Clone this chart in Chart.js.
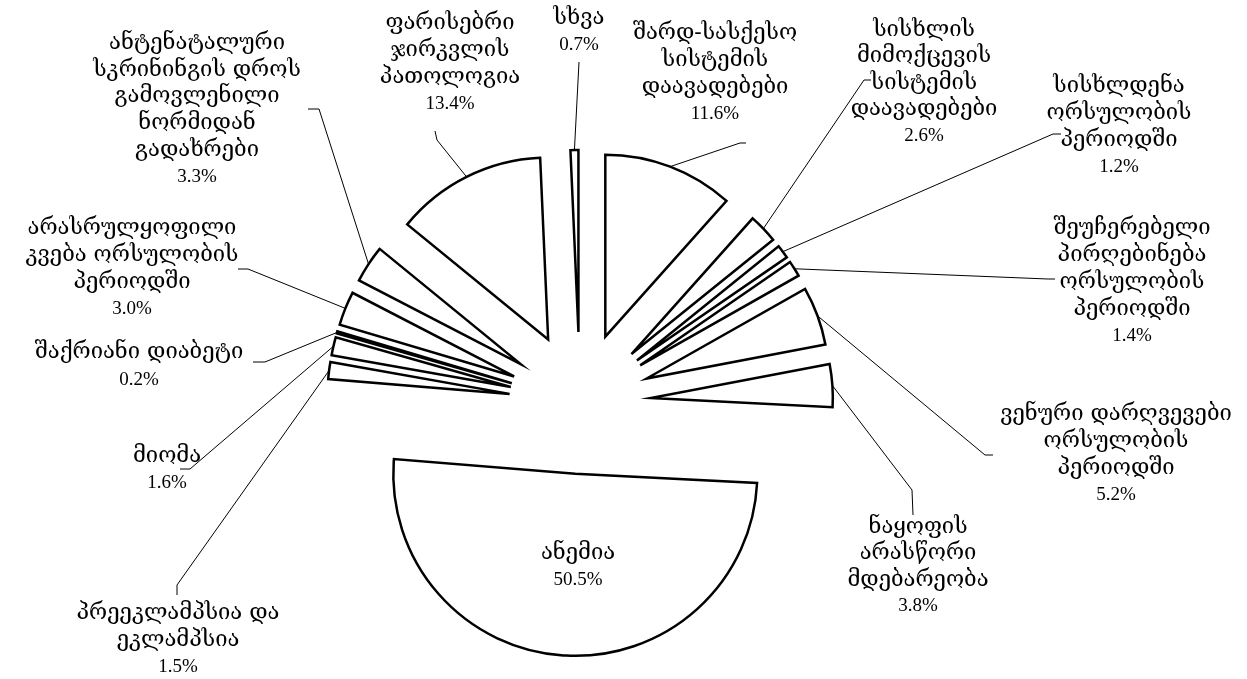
<!DOCTYPE html>
<html><head><meta charset="utf-8">
<script src="https://cdn.jsdelivr.net/npm/chart.js@4.4.1/dist/chart.umd.min.js"></script>
<style>html,body{margin:0;padding:0;background:#fff;} #wrap{width:1247px;height:679px;}</style>
</head><body><div id="wrap"><canvas id="c" width="1247" height="679"></canvas></div>
<script>
// categories (label lines) in slice order, clockwise from 12 o'clock
const categories = [
  ['შარდ-სასქესო', 'სისტემის', 'დაავადებები'],
  ['სისხლის', 'მიმოქცევის', 'სისტემის', 'დაავადებები'],
  ['სისხლდენა', 'ორსულობის', 'პერიოდში'],
  ['შეუჩერებელი', 'პირღებინება', 'ორსულობის', 'პერიოდში'],
  ['ვენური დარღვევები', 'ორსულობის', 'პერიოდში'],
  ['ნაყოფის', 'არასწორი', 'მდებარეობა'],
  ['ანემია'],
  ['პრეეკლამპსია და', 'ეკლამპსია'],
  ['მიომა'],
  ['შაქრიანი დიაბეტი'],
  ['არასრულყოფილი', 'კვება ორსულობის', 'პერიოდში'],
  ['ანტენატალური', 'სკრინინგის დროს', 'გამოვლენილი', 'ნორმიდან', 'გადახრები'],
  ['ფარისებრი', 'ჯირკვლის', 'პათოლოგია'],
  ['სხვა']
];
// percentages
const values = [11.6, 2.6, 1.2, 1.4, 5.2, 3.8, 50.5, 1.5, 1.6, 0.2, 3.0, 3.3, 13.4, 0.7];

// label layout (style only): centre x, first line y, line height, leader path after the slice anchor
const labelLayout = [
  {x: 715, y: 33, lh: 27, path: [[740, 143], [746, 143]]},
  {x: 924, y: 30, lh: 26.5, path: [[864, 80], [871, 80]]},
  {x: 1119, y: 86, lh: 27, path: [[1053, 134], [1061, 134]]},
  {x: 1132, y: 228, lh: 27, path: [[1048, 279], [1055, 279]]},
  {x: 1116, y: 414, lh: 27, path: [[985, 455], [993, 455]]},
  {x: 918, y: 527, lh: 26.5, path: [[912, 490], [913, 515]]},
  {x: 578, y: 553, lh: 27, path: null},
  {x: 178, y: 613, lh: 27, path: [[177, 585], [177, 595]]},
  {x: 167, y: 456, lh: 27, path: [[190, 469], [180, 469]]},
  {x: 139, y: 352, lh: 28, path: [[265, 362], [253, 362]]},
  {x: 132, y: 228, lh: 27, path: [[248, 269], [238, 269]]},
  {x: 197, y: 43, lh: 26.8, path: [[319, 109], [308, 109]]},
  {x: 450, y: 23, lh: 27, path: [[437, 140], [435, 131]]},
  {x: 579, y: 18, lh: 27, path: [[579, 62]]}
];

const EXPLODE = 71;
const GEO_FONT = '22px "DejaVu Serif", "DejaVu Sans", serif';
const NUM_FONT = '19px "Liberation Serif", "Times New Roman", serif';

const explodePlugin = {
  id: 'explode',
  beforeDatasetDraw(chart, args) {
    args.meta.data.forEach(el => {
      if (el.__patched) return;
      el.__patched = true;
      const baseDraw = Chart.ArcElement.prototype.draw;
      el.draw = function (ctx, area) {
        const half = (this.startAngle + this.endAngle) / 2;
        ctx.save();
        ctx.translate(Math.cos(half) * EXPLODE, Math.sin(half) * EXPLODE);
        baseDraw.call(this, ctx, area);
        ctx.restore();
      };
    });
  }
};

const labelPlugin = {
  id: 'labels',
  afterDatasetsDraw(chart) {
    const ctx = chart.ctx;
    const meta = chart.getDatasetMeta(0);
    ctx.save();
    meta.data.forEach((arc, i) => {
      const L = labelLayout[i];
      const mid = (arc.startAngle + arc.endAngle) / 2;
      const r = EXPLODE + arc.outerRadius;
      const ax = arc.x + Math.cos(mid) * r;
      const ay = arc.y + Math.sin(mid) * r;
      if (L.path) {
        ctx.beginPath();
        ctx.strokeStyle = '#000';
        ctx.lineWidth = 1;
        ctx.moveTo(ax, ay);
        L.path.forEach(p => ctx.lineTo(p[0], p[1]));
        ctx.stroke();
      }
      ctx.fillStyle = '#000';
      ctx.textAlign = 'center';
      ctx.textBaseline = 'middle';
      const lines = categories[i];
      lines.forEach((t, k) => {
        ctx.font = GEO_FONT;
        ctx.fillText(t, L.x, L.y + k * L.lh);
      });
      ctx.font = NUM_FONT;
      ctx.fillText(values[i].toFixed(1) + '%', L.x, L.y + lines.length * L.lh);
    });
    ctx.restore();
  }
};

new Chart(document.getElementById('c'), {
  type: 'pie',
  data: {
    labels: categories.map(c => c.join(' ')),
    datasets: [{
      data: values,
      backgroundColor: '#ffffff',
      borderColor: '#000000',
      borderWidth: 2.5,
      borderJoinStyle: 'miter',
      radius: 182,
      hoverOffset: 0
    }]
  },
  options: {
    responsive: false,
    animation: false,
    devicePixelRatio: 1,
    layout: {padding: {left: 0, right: 87, top: 127, bottom: 0}},
    plugins: {legend: {display: false}, tooltip: {enabled: false}}
  },
  plugins: [explodePlugin, labelPlugin]
});
</script>
</body></html>
